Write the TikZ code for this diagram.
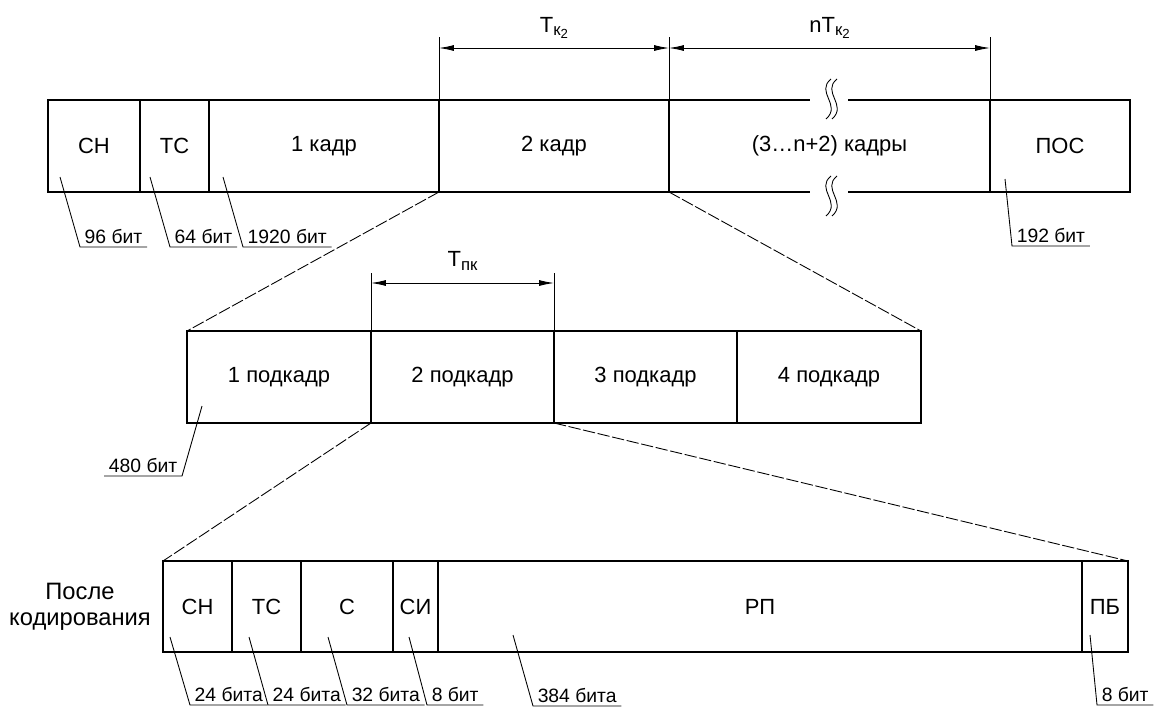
\documentclass[tikz,border=0pt]{standalone}
\usepackage{fontspec}
\setmainfont{Liberation Sans}
\usetikzlibrary{arrows.meta, positioning, calc}

\newcommand{\Tkk}{T\raisebox{-0.3ex}{\fontsize{9.5}{10}\selectfont к\raisebox{-0.35ex}{\fontsize{7.5}{8}\selectfont 2}}}
\newcommand{\Tpk}{T\raisebox{-0.3ex}{\fontsize{9.5}{10}\selectfont пк}}

\begin{document}
\begin{tikzpicture}[
  x=0.02cm, y=-0.02cm,
  font=\fontsize{12.5}{14}\selectfont,
  cell/.style={rectangle, draw=black, line width=1.35pt, outer sep=0pt, inner sep=0pt, minimum height=1.84cm},
  cw/.style={minimum width=#1*0.02cm},
  fine/.style={line width=0.5pt},
  dimline/.style={line width=0.5pt, {Latex[length=8.5pt,width=3.4pt]}-{Latex[length=8.5pt,width=3.4pt]}},
  zoomline/.style={line width=0.5pt, dash pattern=on 7pt off 1.5pt},
  bits/.style={font=\fontsize{11}{13}\selectfont, inner xsep=2.5pt, inner ysep=1.5pt},
  dimlbl/.style={above=5pt, inner sep=0pt}
]
\useasboundingbox (0,0) rectangle (1165,708);

% first row: whole packet
\node[cell, cw=92, anchor=north west] (sn) at (48,100) {СН};
\node[cell, cw=69, right=0pt of sn] (tc) {ТС};
\node[cell, cw=230, right=0pt of tc] (k1) {1 кадр};
\node[cell, cw=230, right=0pt of k1] (k2) {2 кадр};
\node[cell, cw=321, right=0pt of k2] (kn) {(3…n+2) кадры};
\node[cell, cw=140, right=0pt of kn] (pos) {ПОС};

% break marks
\fill[white] (810,94) rectangle (848,106);
\fill[white] (810,186) rectangle (848,198);
\foreach \yy in {79,176}
  \foreach \dx in {0,6}
    \draw[fine] (831+\dx,\yy) .. controls (815+\dx,\yy+13) and (842+\dx,\yy+26) .. (826+\dx,\yy+40);

% second row: subframes
\node[cell, cw=184, anchor=north west] (pk1) at (187,331) {1 подкадр};
\node[cell, cw=183, right=0pt of pk1] (pk2) {2 подкадр};
\node[cell, cw=183, right=0pt of pk2] (pk3) {3 подкадр};
\node[cell, cw=184, right=0pt of pk3] (pk4) {4 подкадр};

% third row: coded subframe
\node[cell, cw=69, minimum height=1.82cm, anchor=north west] (csn) at (163,561) {СН};
\node[cell, cw=69, minimum height=1.82cm, right=0pt of csn] (ctc) {ТС};
\node[cell, cw=92, minimum height=1.82cm, right=0pt of ctc] (cc) {С};
\node[cell, cw=45, minimum height=1.82cm, right=0pt of cc] (csi) {СИ};
\node[cell, cw=644, minimum height=1.82cm, right=0pt of csi] (crp) {РП};
\node[cell, cw=46, minimum height=1.82cm, right=0pt of crp] (cpb) {ПБ};
\node[align=center, font=\fontsize{13.5}{15}\selectfont] (after) at (80,607) {После\\кодирования};

% zoom lines
\draw[zoomline] (k2.south west) -- (pk1.north west);
\draw[zoomline] (k2.south east) -- (pk4.north east);
\draw[zoomline] (pk2.south west) -- (csn.north west);
\draw[zoomline] (pk2.south east) -- (cpb.north east);

% durations
\draw[fine] (k2.north west) -- ++(0,-63) coordinate (t1);
\draw[fine] (k2.north east) -- ++(0,-63) coordinate (t2);
\draw[fine] (pos.north west) -- ++(0,-63) coordinate (t3);
\draw[dimline] ($(t1)+(0,11)$) -- node[dimlbl] (tk) {\Tkk} ($(t2)+(0,11)$);
\draw[dimline] ($(t2)+(0,11)$) -- node[dimlbl] (ntk) {n\Tkk} ($(t3)+(0,11)$);
\draw[fine] (pk2.north west) -- ++(0,-58) coordinate (u1);
\draw[fine] (pk2.north east) -- ++(0,-58) coordinate (u2);
\draw[dimline] ($(u1)+(0,10)$) -- node[dimlbl, above=7pt] (tpk) {\Tpk} ($(u2)+(0,10)$);

% bit counts
\coordinate (psn) at (60,177);
\coordinate (ptc) at (150,177);
\coordinate (pk) at (223,177);
\coordinate (ppos) at (1005,179);
\node[bits, anchor=south west] (bsn) at (80,247) {96 бит};
\node[bits, anchor=south west] (btc) at (170,247) {64 бит};
\node[bits, anchor=south west] (bk) at (243,247) {1920 бит};
\node[bits, anchor=south west] (bpos) at (1012,246) {192 бит};
\draw[fine] (psn) -- (bsn.south west) -- (bsn.south east);
\draw[fine] (ptc) -- (btc.south west) -- (btc.south east);
\draw[fine] (pk) -- (bk.south west) -- (bk.south east);
\draw[fine] (ppos) -- (bpos.south west) -- (bpos.south east);

\coordinate (ppk) at (202,406);
\node[bits, anchor=south east] (bpk) at (182,476) {480 бит};
\draw[fine] (ppk) -- (bpk.south east) -- (bpk.south west);

\coordinate (qsn) at (170,637);
\coordinate (qtc) at (249,637);
\coordinate (qc) at (328,637);
\coordinate (qsi) at (409,637);
\coordinate (qrp) at (513,635);
\coordinate (qpb) at (1090,635);
\node[bits, anchor=south west] (dsn) at (190,705) {24 бита};
\node[bits, anchor=south west] (dtc) at (268,705) {24 бита};
\node[bits, anchor=south west] (dc) at (347,705) {32 бита};
\node[bits, anchor=south west] (dsi) at (427,705) {8 бит};
\node[bits, anchor=south west] (drp) at (533,706) {384 бита};
\node[bits, anchor=south west] (dpb) at (1097,705) {8 бит};
\draw[fine] (qsn) -- (dsn.south west) -- (dsn.south east);
\draw[fine] (qtc) -- (dtc.south west) -- (dtc.south east);
\draw[fine] (qc) -- (dc.south west) -- (dc.south east);
\draw[fine] (qsi) -- (dsi.south west) -- (dsi.south east);
\draw[fine] (qrp) -- (drp.south west) -- (drp.south east);
\draw[fine] (qpb) -- (dpb.south west) -- (dpb.south east);
\end{tikzpicture}
\end{document}
